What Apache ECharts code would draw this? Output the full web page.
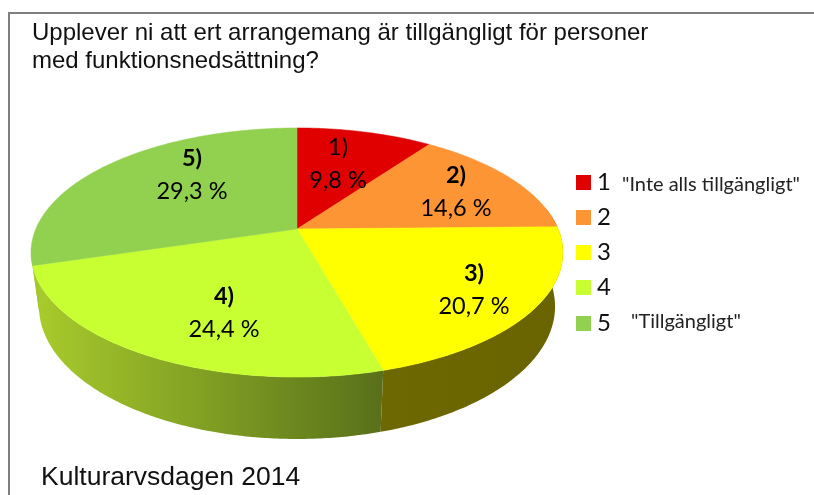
<!DOCTYPE html>
<html><head><meta charset="utf-8">
<style>html,body{margin:0;padding:0;background:#fff}#c{width:814px;height:495px}</style>
<script src="https://cdn.jsdelivr.net/npm/echarts@6/dist/echarts.min.js"></script>
</head><body><div id="c"></div>
<script>
const categories = ['1','2','3','4','5'];
const values = [9.8,14.6,20.7,24.4,29.3];
const sliceNames = ['1)','2)','3)','4)','5)'];
const valueLabels = ['9,8 %','14,6 %','20,7 %','24,4 %','29,3 %'];
const boldName = [false,true,true,true,true];
const legendNotes = ['"Inte alls tillgängligt"','','','','"Tillgängligt"'];
const colors = ['#E00000','#FD9535','#FFFF00','#C8FF33','#92D050'];
const wallStops = [
  ['#700000','#700000'],['#7a4a18','#7a4a18'],['#6d6800','#696400'],
  ['#a9cc2c','#58701a'],['#a9cc2c','#a0c030']
];
const labelAnchors = [[338,164],[456,191.5],[474,290],[224,312.5],[192,174.5]];
const legendY = [182.5,217.5,252.5,287.5,323.5];
const noteY = [185,0,0,0,322];
const noteX = [622,0,0,0,631];

const chart = echarts.init(document.getElementById('c'),null,{renderer:'canvas'});
const total = values.reduce((a,b)=>a+b,0);
const K = 0.1888, CX = 297;
const TOP = {a:261.2,b:-76.9,y0:229};
const BOT = {a:253.4,b:-74.6,y0:281.5};
function proj(p,t){
  const x=Math.sin(t), y=Math.cos(t), w=1+K*y;
  return [CX+p.a*x/w,(p.y0+p.b*y)/w];
}
function arcPts(p,t0,t1){const n=Math.max(2,Math.ceil((t1-t0)/0.01));const o=[];
  for(let i=0;i<=n;i++)o.push(proj(p,t0+(t1-t0)*i/n));return o;}
function bounds(i){let s=0;for(let k=0;k<i;k++)s+=values[k];
  return [s/total*2*Math.PI,(s+values[i])/total*2*Math.PI];}
const WALL0=80*Math.PI/180, WALL1=262*Math.PI/180;

const FONT='Lato, Carlito, sans-serif', ARIAL='"Liberation Sans", Arial, sans-serif';
function txt(x,y,text,font,fill){return {type:'text',silent:true,style:{x:x,y:y,text:text,font:font,fill:fill,verticalAlign:'middle',align:'left'}};}
chart.setOption({
  animation:false,
  backgroundColor:'#fff',
  graphic:[
    {type:'polyline',silent:true,shape:{points:[[9,495],[9,13],[814,13]]},style:{stroke:'#7f7f7f',lineWidth:2,fill:null}},
    txt(32,33,'Upplever ni att ert arrangemang är tillgängligt för personer','24px '+ARIAL,'#111'),
    txt(32,61,'med funktionsnedsättning?','24px '+ARIAL,'#111'),
    txt(41,478,'Kulturarvsdagen 2014','26.5px '+ARIAL,'#111')
  ].concat(categories.map((c,i)=>({type:'rect',silent:true,shape:{x:576,y:legendY[i]-7.5,width:15,height:15},style:{fill:colors[i]}})))
   .concat(categories.map((c,i)=>txt(597,legendY[i],c,'24px '+FONT,'#111')))
   .concat(legendNotes.map((c,i)=>c?txt(noteX[i],noteY[i],c,'20px '+FONT,'#222'):null).filter(Boolean)),
  series:[
    {type:'custom',coordinateSystem:'none',silent:true,z:1,data:values,
     renderItem(params){
       const i=params.dataIndex;const [a,b]=bounds(i);
       const t0=Math.max(a,WALL0),t1=Math.min(b,WALL1);
       if(t1<=t0)return {type:'group',children:[]};
       const pts=arcPts(TOP,t0,t1).concat(arcPts(BOT,t0,t1).reverse());
       return {type:'polygon',shape:{points:pts},style:{
         fill:new echarts.graphic.LinearGradient(0,0,1,0,[{offset:0,color:wallStops[i][0]},{offset:1,color:wallStops[i][1]}])}};
     }},
    {type:'custom',coordinateSystem:'none',silent:true,z:2,data:values,
     renderItem(params){
       const i=params.dataIndex;const [a,b]=bounds(i);
       const pts=[[CX,TOP.y0]].concat(arcPts(TOP,a,b));
       return {type:'polygon',shape:{points:pts},style:{fill:colors[i],stroke:colors[i],lineWidth:0.5}};
     }},
    {type:'custom',coordinateSystem:'none',silent:true,z:3,data:values,
     renderItem(params){
       const i=params.dataIndex;const [x,y]=labelAnchors[i];
       return {type:'group',children:[
        {type:'text',style:{x:x,y:y-16.5,text:sliceNames[i],align:'center',verticalAlign:'middle',font:(boldName[i]?'bold ':'')+'23.5px '+FONT,fill:'#000'}},
        {type:'text',style:{x:x,y:y+16.5,text:valueLabels[i],align:'center',verticalAlign:'middle',font:'23.5px '+FONT,fill:'#000'}}
       ]};
     }}
  ]
});
</script></body></html>
